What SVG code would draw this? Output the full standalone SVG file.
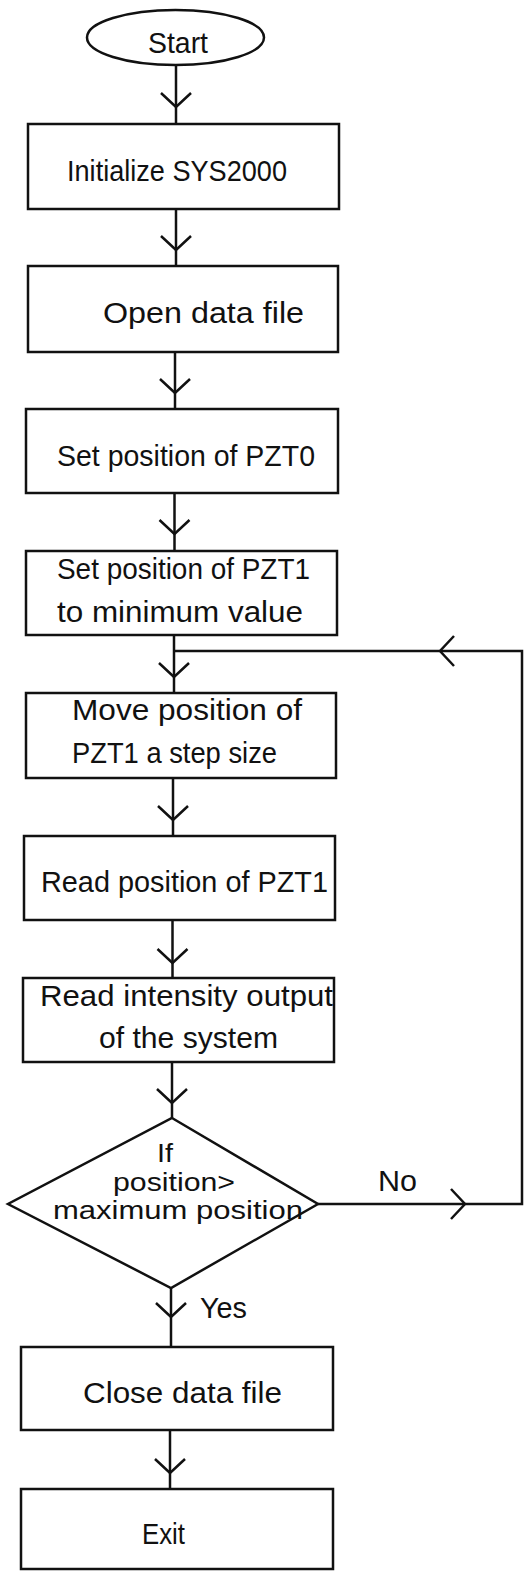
<svg xmlns="http://www.w3.org/2000/svg" xmlns:xlink="http://www.w3.org/1999/xlink" width="524" height="1571" viewBox="0 0 524 1571">
  <style>
    .shape { fill: #fff; stroke: #111; stroke-width: 2.5; }
    .line { fill: none; stroke: #111; stroke-width: 2.5; }
    .lbl { font-family: "Liberation Sans", Arial, sans-serif; font-size: 30px; fill: #111; }
    .small { font-size: 26px; }
  </style>
  <defs>
    <!-- open chevron arrowhead, tip at origin, pointing down -->
    <path id="chev" d="M-15,-14 L0,0 L15,-14" fill="none" stroke="#111" stroke-width="2.5" stroke-linejoin="miter"/>
  </defs>
  <rect width="524" height="1571" fill="#fff"/>

  <g id="connectors">
    <path class="line" d="M176,65 V124"/>
    <use xlink:href="#chev" transform="translate(176,107)"/>
    <path class="line" d="M176,209 V266"/>
    <use xlink:href="#chev" transform="translate(176,250)"/>
    <path class="line" d="M175,352 V409"/>
    <use xlink:href="#chev" transform="translate(175,393)"/>
    <path class="line" d="M174.5,493 V551"/>
    <use xlink:href="#chev" transform="translate(174.5,534)"/>
    <path class="line" d="M174,635 V693"/>
    <use xlink:href="#chev" transform="translate(174,677)"/>
    <path class="line" d="M173,778 V836"/>
    <use xlink:href="#chev" transform="translate(173,820)"/>
    <path class="line" d="M172.5,920 V978"/>
    <use xlink:href="#chev" transform="translate(172.5,963)"/>
    <path class="line" d="M172,1062 V1118"/>
    <use xlink:href="#chev" transform="translate(172,1103)"/>
    <path class="line" d="M171,1288 V1347"/>
    <use xlink:href="#chev" transform="translate(171,1317)"/>
    <path class="line" d="M170,1430 V1489"/>
    <use xlink:href="#chev" transform="translate(170,1473)"/>
    <!-- "No" loop back to the step move -->
    <path class="line" d="M318,1204 H522 V651 H174"/>
    <use xlink:href="#chev" transform="translate(465,1204) rotate(-90)"/>
    <use xlink:href="#chev" transform="translate(440,651) rotate(90)"/>
    <text class="lbl" x="378" y="1191" textLength="39" lengthAdjust="spacingAndGlyphs">No</text>
    <text class="lbl" x="200" y="1318" textLength="47" lengthAdjust="spacingAndGlyphs">Yes</text>
  </g>

  <g id="start">
    <ellipse class="shape" cx="175.5" cy="37.5" rx="88.5" ry="27.5"/>
    <text class="lbl" x="148" y="53" textLength="60" lengthAdjust="spacingAndGlyphs">Start</text>
  </g>
  <g id="init">
    <rect class="shape" x="28" y="124" width="311" height="85"/>
    <text class="lbl" x="67" y="181" textLength="220" lengthAdjust="spacingAndGlyphs">Initialize SYS2000</text>
  </g>
  <g id="open-file">
    <rect class="shape" x="28" y="266" width="310" height="86"/>
    <text class="lbl" x="103" y="323" textLength="201" lengthAdjust="spacingAndGlyphs">Open data file</text>
  </g>
  <g id="set-pzt0">
    <rect class="shape" x="26" y="409" width="312" height="84"/>
    <text class="lbl" x="57" y="466" textLength="258" lengthAdjust="spacingAndGlyphs">Set position of PZT0</text>
  </g>
  <g id="set-pzt1">
    <rect class="shape" x="26" y="551" width="311" height="84"/>
    <text class="lbl" x="57" y="579" textLength="253" lengthAdjust="spacingAndGlyphs">Set position of PZT1</text>
    <text class="lbl" x="57" y="622" textLength="246" lengthAdjust="spacingAndGlyphs">to minimum value</text>
  </g>
  <g id="move-pzt1">
    <rect class="shape" x="26" y="693" width="310" height="85"/>
    <text class="lbl" x="72" y="720" textLength="230" lengthAdjust="spacingAndGlyphs">Move position of</text>
    <text class="lbl" x="72" y="763" textLength="205" lengthAdjust="spacingAndGlyphs">PZT1 a step size</text>
  </g>
  <g id="read-position">
    <rect class="shape" x="24" y="836" width="311" height="84"/>
    <text class="lbl" x="41" y="892" textLength="287" lengthAdjust="spacingAndGlyphs">Read position of PZT1</text>
  </g>
  <g id="read-intensity">
    <rect class="shape" x="23" y="978" width="311" height="84"/>
    <text class="lbl" x="40" y="1006" textLength="293" lengthAdjust="spacingAndGlyphs">Read intensity output</text>
    <text class="lbl" x="99" y="1048" textLength="179" lengthAdjust="spacingAndGlyphs">of the system</text>
  </g>
  <g id="decision">
    <polygon class="shape" points="172,1118 318,1204 171,1288 8,1204"/>
    <text class="lbl small" x="157" y="1162" textLength="16" lengthAdjust="spacingAndGlyphs">If</text>
    <text class="lbl small" x="113" y="1191" textLength="122" lengthAdjust="spacingAndGlyphs">position&gt;</text>
    <text class="lbl small" x="53" y="1219" textLength="250" lengthAdjust="spacingAndGlyphs">maximum position</text>
  </g>
  <g id="close-file">
    <rect class="shape" x="21" y="1347" width="312" height="83"/>
    <text class="lbl" x="83" y="1403" textLength="199" lengthAdjust="spacingAndGlyphs">Close data file</text>
  </g>
  <g id="exit">
    <rect class="shape" x="21" y="1489" width="312" height="80"/>
    <text class="lbl" x="142" y="1544" textLength="43" lengthAdjust="spacingAndGlyphs">Exit</text>
  </g>
</svg>
